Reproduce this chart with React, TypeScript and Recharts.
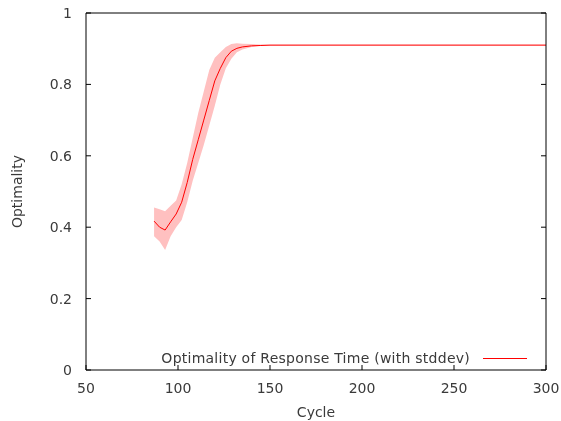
import { Area, ComposedChart, Line, XAxis, YAxis } from 'recharts';

// cycle, mean optimality and the stddev band
const cycles = [87, 90, 93, 96, 99, 102, 105, 108, 111, 114, 117, 120, 123, 126, 129, 132, 135, 140, 145, 150, 175, 200, 225, 250, 275, 300];
const meanValues = [0.417, 0.4, 0.392, 0.415, 0.437, 0.47, 0.525, 0.59, 0.645, 0.7, 0.755, 0.81, 0.845, 0.875, 0.893, 0.901, 0.905, 0.908, 0.909, 0.91, 0.91, 0.91, 0.91, 0.91, 0.91, 0.91];
const lowValues = [0.375, 0.36, 0.336, 0.375, 0.4, 0.42, 0.47, 0.53, 0.58, 0.63, 0.685, 0.74, 0.8, 0.845, 0.872, 0.89, 0.898, 0.905, 0.908, 0.909, 0.91, 0.91, 0.91, 0.91, 0.91, 0.91];
const highValues = [0.455, 0.45, 0.445, 0.46, 0.475, 0.52, 0.58, 0.65, 0.72, 0.78, 0.84, 0.875, 0.89, 0.905, 0.913, 0.915, 0.914, 0.913, 0.912, 0.911, 0.911, 0.911, 0.911, 0.911, 0.911, 0.911];

const xTicks = [50, 100, 150, 200, 250, 300];
const yTicks = [0, 0.2, 0.4, 0.6, 0.8, 1];

const seriesName = 'Optimality of Response Time (with stddev)';

const data = cycles.map((cycle, i) => ({
  cycle,
  mean: meanValues[i],
  band: [lowValues[i], highValues[i]],
}));

const font = 'DejaVu Sans, sans-serif';
const textColor = '#3a3a3a';

// gnuplot-style key, sitting inside the plot at the bottom right
function KeyBox() {
  return (
    <div
      style={{
        position: 'absolute',
        left: 0,
        top: 349,
        width: 527,
        display: 'flex',
        alignItems: 'center',
        justifyContent: 'flex-end',
        fontFamily: font,
        fontSize: 14,
        letterSpacing: '0.25px',
        lineHeight: '18px',
        color: textColor,
      }}
    >
      <span>{seriesName}</span>
      <svg width={44} height={10} style={{ marginLeft: 13 }}>
        <line x1={0} y1={5.5} x2={44} y2={5.5} stroke="#ff0000" strokeWidth={1} />
      </svg>
    </div>
  );
}

export default function App() {
  return (
    <div style={{ position: 'fixed', left: 0, top: 0, width: 561, height: 421 }}>
      <ComposedChart
        width={561}
        height={421}
        data={data}
        margin={{ top: 12, right: 14, bottom: 0, left: 0 }}
        style={{ fontFamily: font }}
      >
        <XAxis
          dataKey="cycle"
          type="number"
          domain={[50, 300]}
          ticks={xTicks}
          allowDataOverflow
          height={51}
          tickSize={-5}
          tickMargin={18}
          stroke="#000"
          tick={{ fill: textColor, fontSize: 14 }}
          label={{ value: 'Cycle', position: 'center', dy: 17, fill: textColor, fontSize: 14 }}
        />
        <XAxis
          xAxisId="top"
          orientation="top"
          type="number"
          domain={[50, 300]}
          ticks={xTicks}
          allowDataOverflow
          height={1}
          tickSize={-5}
          tickFormatter={() => ''}
          stroke="#000"
        />
        <YAxis
          type="number"
          domain={[0, 1]}
          ticks={yTicks}
          allowDataOverflow
          width={86}
          tickSize={-5}
          tickMargin={19}
          stroke="#000"
          tick={{ fill: textColor, fontSize: 14 }}
          label={{ value: 'Optimality', angle: -90, position: 'center', dx: -26, fill: textColor, fontSize: 14 }}
        />
        <YAxis
          yAxisId="right"
          orientation="right"
          type="number"
          domain={[0, 1]}
          ticks={yTicks}
          allowDataOverflow
          width={1}
          tickSize={-5}
          tickFormatter={() => ''}
          stroke="#000"
        />
        <Area
          dataKey="band"
          type="linear"
          fill="#ffc0c0"
          fillOpacity={1}
          stroke="none"
          isAnimationActive={false}
        />
        <Line
          dataKey="mean"
          type="linear"
          stroke="#ff0000"
          strokeWidth={1}
          dot={false}
          name={seriesName}
          isAnimationActive={false}
        />
      </ComposedChart>
      <KeyBox />
    </div>
  );
}
